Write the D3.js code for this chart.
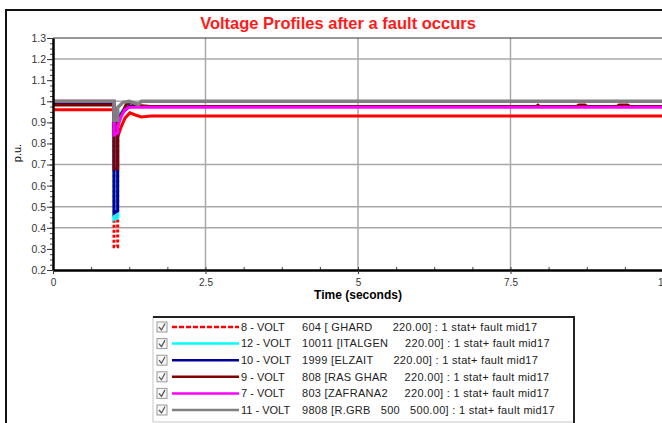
<!DOCTYPE html>
<html>
<head>
<meta charset="utf-8">
<script src="https://cdn.jsdelivr.net/npm/d3@7"></script>
<style>
  body { margin: 0; background: #fff; }
  svg { display: block; font-family: "Liberation Sans", Arial, sans-serif; }
</style>
</head>
<body>
<div id="chart"></div>
<script>
// time (s), voltage (p.u.) for each channel
const volt8 = [[0, 0.96], [1.0, 0.96], [1.0, 0.44], [1.0, 0.31], [1.06, 0.31], [1.06, 0.44], [1.06, 0.83],
  [1.12, 0.88], [1.18, 0.92], [1.26, 0.945], [1.35, 0.935], [1.45, 0.926], [1.6, 0.93], [10, 0.93]]
const volt12 = [[0, 0.985], [1.0, 0.985], [1.0, 0.44], [1.06, 0.45], [1.06, 0.93], [1.2, 0.975], [1.3, 0.98],
  [1.45, 0.975], [10, 0.975]]
const volt10 = [[0, 0.985], [1.0, 0.985], [1.0, 0.47], [1.06, 0.48], [1.06, 0.92], [1.15, 0.95], [1.25, 0.975],
  [10, 0.975]]
const volt9 = [[0, 0.982], [1.0, 0.982], [1.0, 0.68], [1.06, 0.68], [1.06, 0.9], [1.2, 0.985], [1.28, 0.993],
  [1.4, 0.98], [1.6, 0.975], [7.92, 0.975], [7.95, 0.982], [7.98, 0.975], [8.58, 0.975], [8.62, 0.982],
  [8.72, 0.982], [8.76, 0.975], [9.24, 0.975], [9.28, 0.982], [9.42, 0.982], [9.46, 0.975], [10, 0.975]]
const volt7 = [[0, 1.0], [1.0, 1.0], [1.0, 0.84], [1.06, 0.85], [1.06, 0.88], [1.12, 0.93], [1.18, 0.96],
  [1.25, 0.972], [10, 0.972]]
const volt11 = [[0, 1.0], [1.0, 1.0], [1.0, 0.91], [1.06, 0.91], [1.06, 0.97], [1.15, 0.995], [1.25, 1.0],
  [1.35, 0.99], [1.4, 0.985], [1.45, 1.0], [10, 1.0]]

const channels = ['8 - VOLT', '12 - VOLT', '10 - VOLT', '9 - VOLT', '7 - VOLT', '11 - VOLT']
const busNames = [
  '604 [ GHARD      220.00] : 1 stat+ fault mid17',
  '10011 [ITALGEN     220.00] : 1 stat+ fault mid17',
  '1999 [ELZAIT      220.00] : 1 stat+ fault mid17',
  '808 [RAS GHAR     220.00] : 1 stat+ fault mid17',
  '803 [ZAFRANA2     220.00] : 1 stat+ fault mid17',
  '9808 [R.GRB   500   500.00] : 1 stat+ fault mid17'
]
const seriesValues = [volt8, volt12, volt10, volt9, volt7, volt11]
const seriesColors = ['#ff0000', '#00ffff', '#000099', '#800000', '#ff00ff', '#808080']

const yTicks = [1.3, 1.2, 1.1, 1.0, 0.9, 0.8, 0.7, 0.6, 0.5, 0.4, 0.3, 0.2]
const xTicks = [0, 2.5, 5, 7.5, 10]
const yGrid = [1.2, 1.0, 0.7, 0.5, 0.4]
const xGrid = [2.5, 5, 7.5, 10]

const faultFloor = 0.45 // below this the fault channel is drawn dashed

const width = 662
const height = 423
const margin = { top: 38, right: -1, bottom: 153, left: 53 }

const svg = d3.select('#chart')
  .append('svg')
  .attr('width', width)
  .attr('height', height)

// outer frame
svg.append('path')
  .attr('d', `M6,${height}V10H${width}`)
  .attr('fill', 'none')
  .attr('stroke', '#111')
  .attr('stroke-width', 2)

svg.append('text')
  .attr('x', 338)
  .attr('y', 29)
  .attr('text-anchor', 'middle')
  .attr('font-size', 16.5)
  .attr('font-weight', 'bold')
  .attr('fill', '#ff1a1a')
  .text('Voltage Profiles after a fault occurs')

const x = d3.scaleLinear()
  .domain([0, 10])
  .range([margin.left, width - margin.right])

const y = d3.scaleLinear()
  .domain([0.2, 1.3])
  .range([height - margin.bottom, margin.top])

const fmt = d3.format('.1~f')

// grid
const grid = svg.append('g').attr('class', 'grid')
grid.selectAll('line.h')
  .data(yGrid)
  .join('line')
  .attr('class', 'h')
  .attr('x1', x(0)).attr('x2', x(10))
  .attr('y1', d => y(d)).attr('y2', d => y(d))
  .attr('stroke', '#a8a8a8')
  .attr('stroke-width', 1.5)
grid.selectAll('line.v')
  .data(xGrid)
  .join('line')
  .attr('class', 'v')
  .attr('x1', d => x(d)).attr('x2', d => x(d))
  .attr('y1', y(0.2)).attr('y2', y(1.3))
  .attr('stroke', '#a8a8a8')
  .attr('stroke-width', 1.5)

// top border of plot
svg.append('line')
  .attr('x1', x(0)).attr('x2', width)
  .attr('y1', y(1.3)).attr('y2', y(1.3))
  .attr('stroke', '#333')
  .attr('stroke-width', 1.2)

svg.append('clipPath')
  .attr('id', 'plot-clip')
  .append('rect')
  .attr('x', x(0)).attr('y', y(1.3))
  .attr('width', x(10) - x(0)).attr('height', y(0.2) - y(1.3))

const lines = svg.append('g').attr('clip-path', 'url(#plot-clip)')

const line = d3.line()
  .x(d => x(d[0]))
  .y(d => y(d[1]))

seriesValues.forEach((values, i) => {
  if (i === 0) {
    // channel 8: dashed where it dips during the fault
    lines.append('path')
      .datum(values.filter(d => d[0] >= 1.0 && d[0] <= 1.06))
      .attr('d', line)
      .attr('fill', 'none')
      .attr('stroke', seriesColors[i])
      .attr('stroke-width', 3)
      .attr('stroke-dasharray', '3,2')
    lines.append('path')
      .datum(values)
      .attr('d', line.defined(d => d[1] >= faultFloor))
      .attr('fill', 'none')
      .attr('stroke', seriesColors[i])
      .attr('stroke-width', 3)
    line.defined(() => true)
    return
  }
  lines.append('path')
    .datum(values)
    .attr('d', line)
    .attr('fill', 'none')
    .attr('stroke', seriesColors[i])
    .attr('stroke-width', i === 5 ? 3.5 : 3)
})

// axes
const yMinor = d3.range(0.2, 1.3001, 0.025)
const xMinor = d3.range(0, 10.001, 0.625)

svg.append('g')
  .attr('transform', `translate(${x(0)},0)`)
  .call(d3.axisLeft(y).tickValues(yMinor).tickSize(3).tickFormat(''))
  .call(g => g.select('.domain').remove())
  .call(g => g.selectAll('line').attr('stroke', '#444'))

svg.append('g')
  .attr('transform', `translate(0,${y(0.2)})`)
  .call(d3.axisBottom(x).tickValues(xMinor).tickSize(-3).tickFormat(''))
  .call(g => g.select('.domain').remove())
  .call(g => g.selectAll('line').attr('stroke', '#444'))

svg.append('g')
  .attr('transform', `translate(${x(0)},0)`)
  .call(d3.axisLeft(y).tickValues(yTicks).tickSize(6).tickSizeOuter(0).tickFormat(fmt))
  .call(g => g.select('.domain').attr('stroke', '#000').attr('stroke-width', 2.5))
  .call(g => g.selectAll('.tick line').attr('stroke', '#333'))
  .call(g => g.selectAll('text')
    .attr('x', -7)
    .attr('font-size', 10.5)
    .attr('font-family', '"Liberation Sans", Arial, sans-serif')
    .attr('fill', '#333'))

svg.append('g')
  .attr('transform', `translate(0,${y(0.2)})`)
  .call(d3.axisBottom(x).tickValues(xTicks).tickSize(4).tickSizeOuter(0).tickFormat(fmt))
  .call(g => g.select('.domain').attr('stroke', '#000').attr('stroke-width', 2.5))
  .call(g => g.selectAll('.tick line').attr('stroke', '#333'))
  .call(g => g.selectAll('text')
    .attr('y', 9)
    .attr('font-size', 10)
    .attr('font-family', '"Liberation Sans", Arial, sans-serif')
    .attr('fill', '#333'))

svg.append('text')
  .attr('x', (x(0) + x(10)) / 2)
  .attr('y', 299)
  .attr('text-anchor', 'middle')
  .attr('font-size', 12)
  .attr('font-weight', 'bold')
  .text('Time (seconds)')

svg.append('text')
  .attr('transform', 'translate(21,153) rotate(-90)')
  .attr('text-anchor', 'middle')
  .attr('font-size', 11)
  .text('p.u.')

// legend
const legend = svg.append('g').attr('class', 'legend')
legend.append('rect')
  .attr('x', 153).attr('y', 317)
  .attr('width', 421).attr('height', 105)
  .attr('fill', '#fff')
  .attr('stroke', '#c8c8c8')
legend.append('path')
  .attr('d', 'M153,317H574V423')
  .attr('fill', 'none')
  .attr('stroke', '#222')
  .attr('stroke-width', 2)

const rowY = d3.scalePoint()
  .domain(channels)
  .range([327, 410])

const row = legend.selectAll('g.row')
  .data(channels)
  .join('g')
  .attr('class', 'row')
  .attr('transform', d => `translate(0,${rowY(d)})`)

row.append('rect')
  .attr('x', 157).attr('y', -5)
  .attr('width', 10).attr('height', 10)
  .attr('fill', '#f6f6f6')
  .attr('stroke', '#9a9a9a')
row.append('path')
  .attr('d', 'M159,0L161.5,3L165,-3.5')
  .attr('fill', 'none')
  .attr('stroke', '#555')
  .attr('stroke-width', 1.2)

row.append('line')
  .attr('x1', 172).attr('x2', 239)
  .attr('stroke', (d, i) => seriesColors[i])
  .attr('stroke-width', 2.5)
  .attr('stroke-dasharray', (d, i) => i === 0 ? '5,2' : null)

row.append('text')
  .attr('x', 241)
  .attr('dy', '0.35em')
  .attr('font-size', 11)
  .attr('fill', '#222')
  .text(d => d)

row.append('text')
  .attr('x', 302)
  .attr('dy', '0.35em')
  .attr('font-size', 11)
  .attr('letter-spacing', 0.3)
  .attr('fill', '#222')
  .style('white-space', 'pre')
  .text((d, i) => busNames[i])
</script>
</body>
</html>
